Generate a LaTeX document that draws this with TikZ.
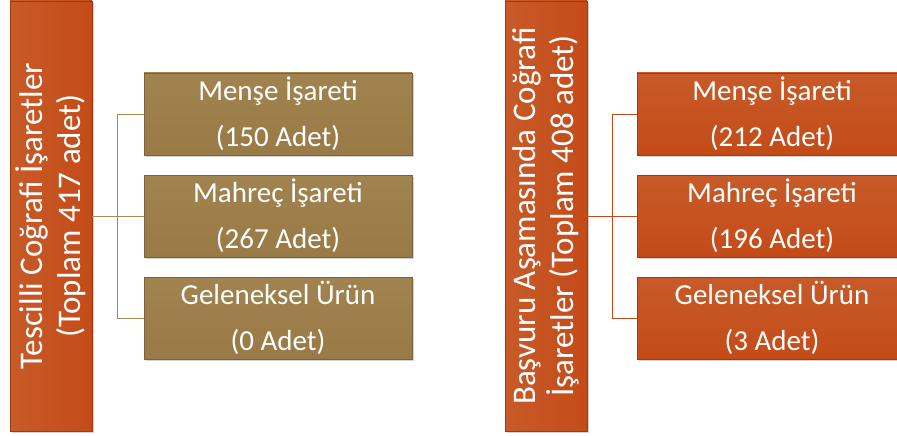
\documentclass[tikz,border=0pt]{standalone}
\usepackage{fontspec}
\setmainfont{Carlito}
\usetikzlibrary{shadows}

\definecolor{turuncu}{HTML}{C44B18}
\definecolor{turuncuacik}{HTML}{C75B29}
\definecolor{kahve}{HTML}{9A7A46}
\definecolor{kahveacik}{HTML}{A0834F}
\definecolor{kahvecizgi}{HTML}{A88A55}

\tikzset{
  govde/.style={rotate=90, minimum width=430pt, minimum height=82pt,
    top color=turuncuacik, bottom color=turuncu, shading angle=90,
    draw=turuncu!80!black, line width=0.5pt, text=white, align=center,
    font=\fontsize{33}{38}\selectfont, inner sep=0pt,
    drop shadow={opacity=0.35, shadow xshift=2pt, shadow yshift=-2pt}},
  yaprak/.style={minimum width=268pt, minimum height=82pt,
    draw=#1!80!black, line width=0.5pt, top color=#1acik, bottom color=#1,
    text=white, align=center, font=\fontsize{29}{46}\selectfont, inner sep=0pt,
    drop shadow={opacity=0.35, shadow xshift=2pt, shadow yshift=-2pt}},
  bag/.style={draw=#1, line width=1pt}
}

\begin{document}
\begin{tikzpicture}[x=1pt, y=-1pt]
    \useasboundingbox (0,0) rectangle (897,436);

    % Tescilli
    \node[govde] (tescil) at (51,216) {Tescilli Coğrafi İşaretler\\(Toplam 417 adet)};
    \node[yaprak=kahve] (t1) at (278,114) {Menşe İşareti\\(150 Adet)};
    \node[yaprak=kahve] (t2) at (278,216) {Mahreç İşareti\\(267 Adet)};
    \node[yaprak=kahve] (t3) at (278,318) {Geleneksel Ürün\\(0 Adet)};

    \coordinate (tk) at (117,216);
    \draw[bag=kahvecizgi] (tescil.south) -- (tk);
    \draw[bag=kahvecizgi] (tk) |- (t1.west);
    \draw[bag=kahvecizgi] (tk) -- (t2.west);
    \draw[bag=kahvecizgi] (tk) |- (t3.west);

    % Basvuru
    \node[govde] (basvuru) at (546,216) {Başvuru Aşamasında Coğrafi\\İşaretler (Toplam 408 adet)};
    \node[yaprak=turuncu, minimum width=270pt] (b1) at (772,114) {Menşe İşareti\\(212 Adet)};
    \node[yaprak=turuncu, minimum width=270pt] (b2) at (772,216) {Mahreç İşareti\\(196 Adet)};
    \node[yaprak=turuncu, minimum width=270pt] (b3) at (772,318) {Geleneksel Ürün\\(3 Adet)};

    \coordinate (bk) at (612,216);
    \draw[bag=turuncu] (basvuru.south) -- (bk);
    \draw[bag=turuncu] (bk) |- (b1.west);
    \draw[bag=turuncu] (bk) -- (b2.west);
    \draw[bag=turuncu] (bk) |- (b3.west);
\end{tikzpicture}
\end{document}
